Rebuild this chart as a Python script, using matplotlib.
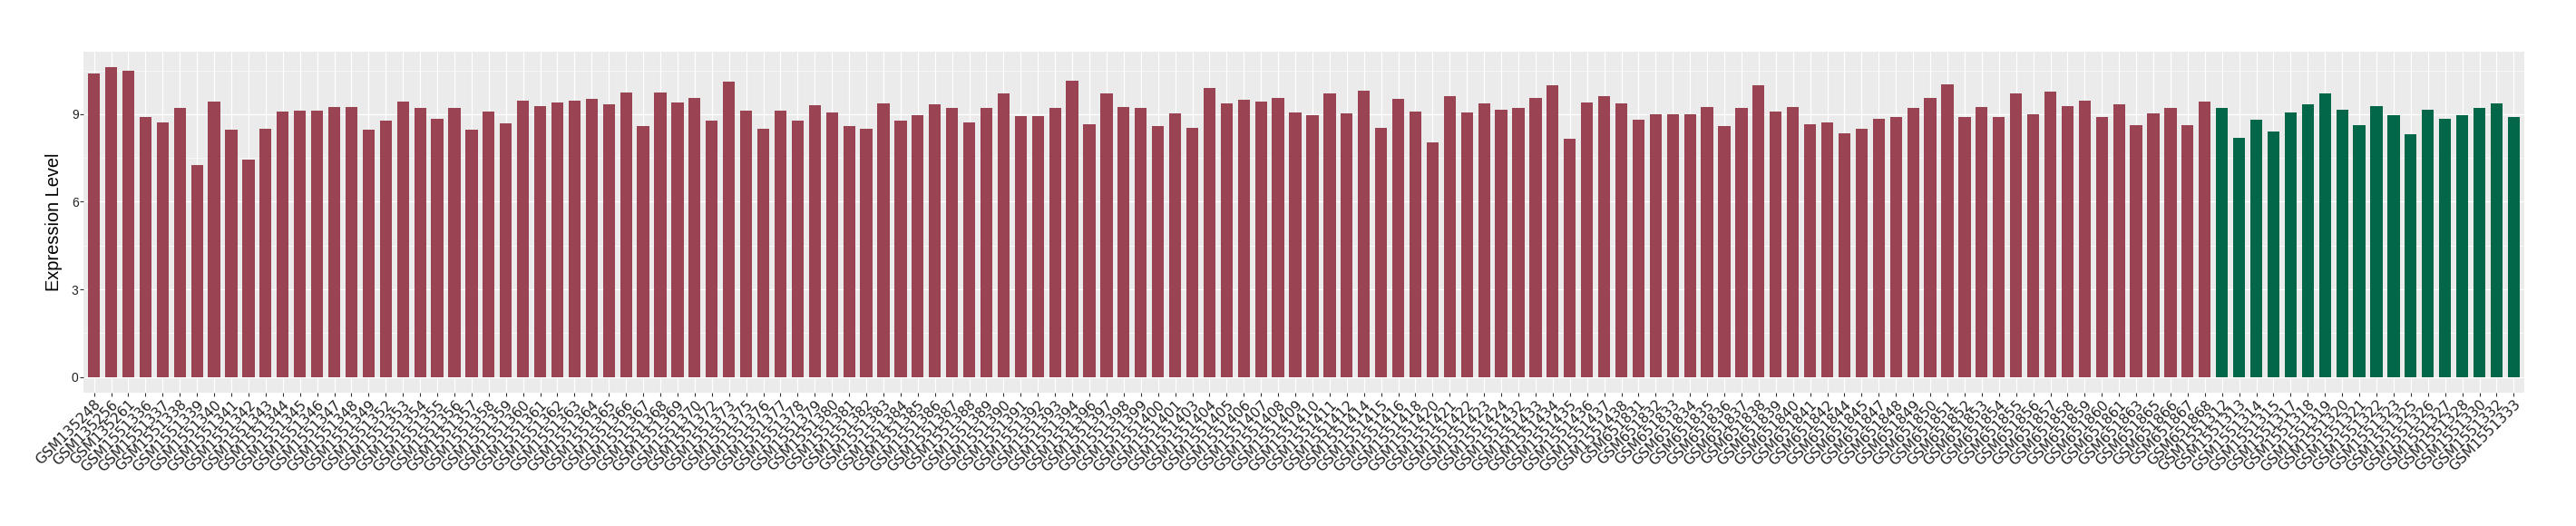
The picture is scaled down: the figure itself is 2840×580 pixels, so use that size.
import matplotlib
matplotlib.use("Agg")
import matplotlib.pyplot as plt
from matplotlib.ticker import FixedLocator

tumor_samples = [
    "GSM135248", "GSM135256", "GSM135261",
    "GSM1551336", "GSM1551337", "GSM1551338", "GSM1551339", "GSM1551340", "GSM1551341",
    "GSM1551342", "GSM1551343", "GSM1551344", "GSM1551345", "GSM1551346", "GSM1551347",
    "GSM1551348", "GSM1551349", "GSM1551352", "GSM1551353", "GSM1551354", "GSM1551355",
    "GSM1551356", "GSM1551357", "GSM1551358", "GSM1551359", "GSM1551360", "GSM1551361",
    "GSM1551362", "GSM1551363", "GSM1551364", "GSM1551365", "GSM1551366", "GSM1551367",
    "GSM1551368", "GSM1551369", "GSM1551370", "GSM1551372", "GSM1551373", "GSM1551375",
    "GSM1551376", "GSM1551377", "GSM1551378", "GSM1551379", "GSM1551380", "GSM1551381",
    "GSM1551382", "GSM1551383", "GSM1551384", "GSM1551385", "GSM1551386", "GSM1551387",
    "GSM1551388", "GSM1551389", "GSM1551390", "GSM1551391", "GSM1551392", "GSM1551393",
    "GSM1551394", "GSM1551396", "GSM1551397", "GSM1551398", "GSM1551399", "GSM1551400",
    "GSM1551401", "GSM1551403", "GSM1551404", "GSM1551405", "GSM1551406", "GSM1551407",
    "GSM1551408", "GSM1551409", "GSM1551410", "GSM1551411", "GSM1551412", "GSM1551414",
    "GSM1551415", "GSM1551416", "GSM1551418", "GSM1551420", "GSM1551421", "GSM1551422",
    "GSM1551423", "GSM1551424", "GSM1551432", "GSM1551433", "GSM1551434", "GSM1551435",
    "GSM1551436", "GSM1551437", "GSM1551438",
    "GSM651831", "GSM651832", "GSM651833", "GSM651834", "GSM651835", "GSM651836",
    "GSM651837", "GSM651838", "GSM651839", "GSM651840", "GSM651841", "GSM651842",
    "GSM651844", "GSM651845", "GSM651847", "GSM651848", "GSM651849", "GSM651850",
    "GSM651851", "GSM651852", "GSM651853", "GSM651854", "GSM651855", "GSM651856",
    "GSM651857", "GSM651858", "GSM651859", "GSM651860", "GSM651861", "GSM651863",
    "GSM651865", "GSM651866", "GSM651867", "GSM651868",
]
tumor_values = [
    10.40, 10.62, 10.49, 8.89, 8.73, 9.20, 7.27, 9.44, 8.47, 7.45, 8.51, 9.09, 9.13, 9.13,
    9.25, 9.25, 8.47, 8.78, 9.44, 9.22, 8.85, 9.22, 8.47, 9.09, 8.69, 9.47, 9.29, 9.41,
    9.47, 9.53, 9.35, 9.75,
    8.60, 9.75, 9.41, 9.56, 8.78, 10.13, 9.13, 8.51, 9.13, 8.78, 9.31, 9.07, 8.60, 8.51,
    9.38, 8.78, 8.98, 9.35, 9.20, 8.73, 9.20, 9.72, 8.94, 8.94, 9.22, 10.15, 8.67, 9.72,
    9.25, 9.22, 8.58, 9.04, 8.54, 9.91, 9.38, 9.51,
    9.44, 9.56, 9.07, 8.98, 9.72, 9.04, 9.82, 8.54, 9.53, 9.09, 8.05, 9.62, 9.07, 9.38,
    9.16, 9.20, 9.56, 10.00, 8.16, 9.41, 9.62, 9.38, 8.82, 9.00, 9.00, 9.00, 9.25, 8.60,
    9.22, 10.00, 9.09, 9.25, 8.67, 8.73, 8.36, 8.51,
    8.85, 8.89, 9.22, 9.56, 10.03, 8.91, 9.25, 8.91, 9.72, 9.00, 9.78, 9.29, 9.47, 8.91,
    9.35, 8.63, 9.04, 9.20, 8.63, 9.44,
]
normal_samples = [
    "GSM1551312", "GSM1551313", "GSM1551314", "GSM1551315", "GSM1551317", "GSM1551318",
    "GSM1551319", "GSM1551320", "GSM1551321", "GSM1551322", "GSM1551323", "GSM1551325",
    "GSM1551326", "GSM1551327", "GSM1551328", "GSM1551330", "GSM1551332", "GSM1551333",
]
normal_values = [
    9.22, 8.20, 8.82, 8.42, 9.07, 9.35, 9.72, 9.16, 8.63, 9.29, 8.98, 8.32, 9.16, 8.85,
    8.98, 9.22, 9.38, 8.89,
]
y_ticks = [0, 3, 6, 9]
y_minor = [1.5, 4.5, 7.5, 10.5]

tumor_color = "#9A4352"
normal_color = "#026748"

samples = tumor_samples + normal_samples
values = tumor_values + normal_values
colors = [tumor_color] * len(tumor_samples) + [normal_color] * len(normal_samples)
n = len(samples)
x = list(range(1, n + 1))

fig = plt.figure(figsize=(28.4, 5.8), dpi=100)
ax = fig.add_axes([92.3 / 2840, 1 - 432.7 / 580, (2782.7 - 92.3) / 2840, (432.7 - 56.7) / 580])
ax.set_facecolor("#EBEBEB")
for s in ax.spines.values():
    s.set_visible(False)

ax.bar(x, values, width=0.7, color=colors, zorder=3)

ymax = max(values)
pad = 0.05 * ymax
ax.set_ylim(-pad, ymax + pad)
ax.set_xlim(0.4, n + 0.6)

ax.yaxis.set_major_locator(FixedLocator(y_ticks))
ax.yaxis.set_minor_locator(FixedLocator(y_minor))
ax.set_xticks(x)
ax.set_xticklabels(samples, rotation=45, ha="right", va="top", rotation_mode="anchor",
                   fontsize=11.2, family="DejaVu Sans", color="#222222")
for lab in ax.get_yticklabels():
    lab.set_family("Liberation Sans")
    lab.set_fontsize(10)
    lab.set_color("#222222")

ax.grid(True, which="major", axis="both", color="white", linewidth=0.9, zorder=0)
ax.grid(True, which="minor", axis="y", color="white", linewidth=0.45, zorder=0)
ax.set_axisbelow(True)
ax.tick_params(axis="both", which="major", length=2.6, width=0.8, color="#333333", pad=1.5)
ax.tick_params(axis="y", which="minor", length=0)

ax.set_ylabel("Expression Level", family="Liberation Sans", fontsize=14.4, color="black", labelpad=7)

fig.savefig("out.png", dpi=100, facecolor="white")
